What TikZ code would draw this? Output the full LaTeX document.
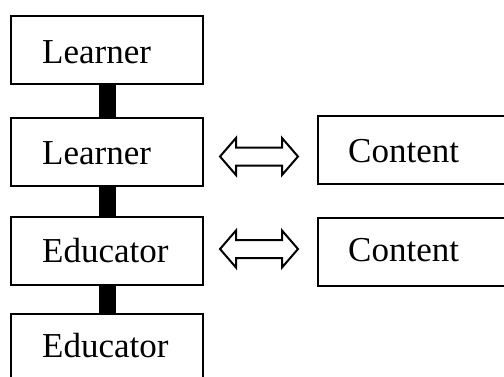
\documentclass[tikz,border=0pt]{standalone}
\usepackage{fontspec}
\setmainfont{Liberation Serif}
\begin{document}
\begin{tikzpicture}[x=1pt,y=-1pt,
  box/.style={draw=black,line width=2pt,fill=white,minimum width=192pt,minimum height=68pt,inner sep=0pt,anchor=north west},
  cbox/.style={draw=black,line width=2pt,fill=white,minimum width=220pt,minimum height=68pt,inner sep=0pt,anchor=north west},
  lbl/.style={anchor=base west,inner sep=0pt,font=\fontsize{35pt}{40pt}\selectfont},
  bar/.style={fill=black,draw=none},
  dbl/.style={draw=black,line width=2pt,fill=white,line join=miter}]
\useasboundingbox (0,0) rectangle (504,376);
\clip (0,0) rectangle (504,376);
% left boxes
\node[box] (b1) at (10,15) {};
\node[box] (b2) at (10,117) {};
\node[box] (b3) at (10,216) {};
\node[box] (b4) at (10,312.7) {};
% connector bars
\fill[bar] ([xshift=-8.5pt,yshift=1pt]b1.south) rectangle ([xshift=8.5pt,yshift=-1pt]b2.north);
\fill[bar] ([xshift=-8.5pt,yshift=1pt]b2.south) rectangle ([xshift=8.5pt,yshift=-1pt]b3.north);
\fill[bar] ([xshift=-8.5pt,yshift=1pt]b3.south) rectangle ([xshift=8.5pt,yshift=-1pt]b4.north);
\node[lbl] (t1) at (42,63) {Learner};
\node[lbl] (t2) at (42,164.5) {Learner};
\node[lbl] (t3) at (42,262) {Educator};
\node[lbl] (t4) at (42,357) {Educator};
% content boxes
\node[cbox] (c1) at (317,115) {};
\node[cbox] (c2) at (317,217) {};
\node[lbl] (u1) at (348,162.7) {Content};
\node[lbl] (u2) at (348,261.7) {Content};
% double arrows
\coordinate (a1) at (259,156.5);
\coordinate (a2) at (259,249);
\foreach \a in {a1,a2}{
  \draw[dbl] ([xshift=-39pt]\a) -- ([xshift=-23pt,yshift=-18.5pt]\a) -- ([xshift=-23pt,yshift=-9pt]\a)
    -- ([xshift=23pt,yshift=-9pt]\a) -- ([xshift=23pt,yshift=-18.5pt]\a) -- ([xshift=39pt]\a)
    -- ([xshift=23pt,yshift=18.5pt]\a) -- ([xshift=23pt,yshift=9pt]\a) -- ([xshift=-23pt,yshift=9pt]\a)
    -- ([xshift=-23pt,yshift=18.5pt]\a) -- cycle;
}
\end{tikzpicture}
\end{document}
